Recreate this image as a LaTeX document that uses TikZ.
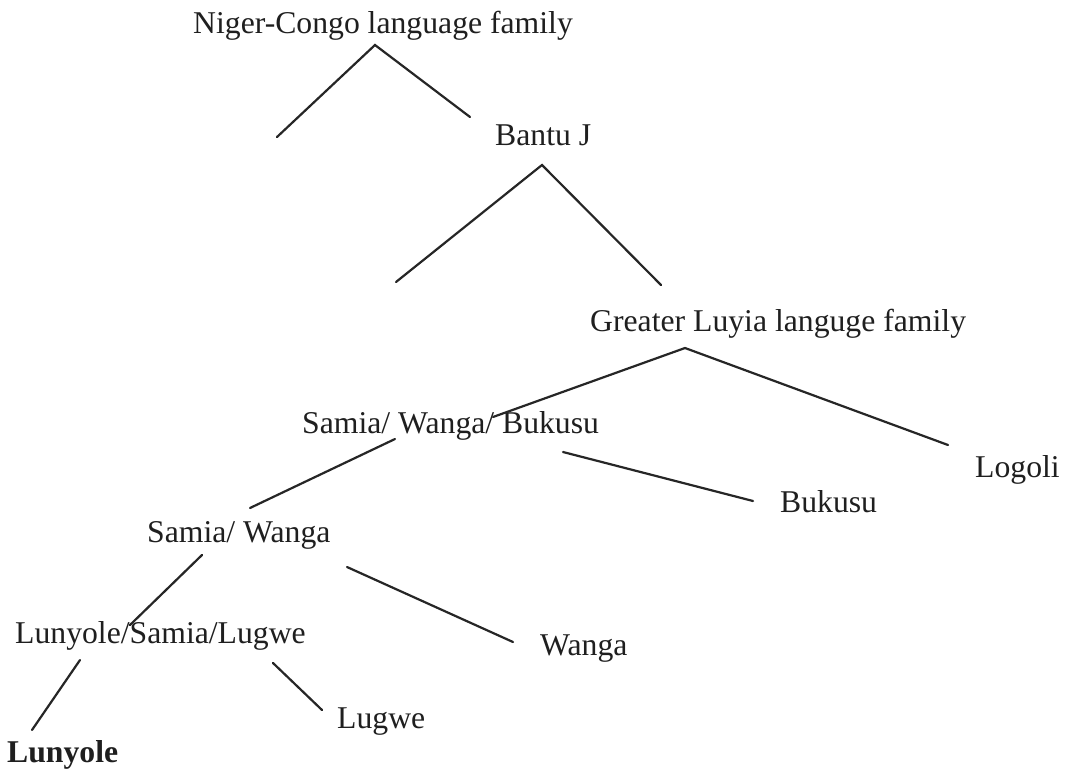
\documentclass[tikz,border=0pt]{standalone}
\usepackage{fontspec}
\setmainfont{Liberation Serif}
\begin{document}
\begin{tikzpicture}[x=1pt,y=-1pt,
  lbl/.style={inner sep=0pt,anchor=base west,font=\fontsize{31.7}{38}\selectfont,text=black!88},
  edge/.style={line width=2.2pt,black!85,line cap=round}]
\useasboundingbox[fill=white] (0,0) rectangle (1067,771);
% labels
\node[lbl] (nc)   at (193,33)  {Niger-Congo language family};
\node[lbl] (bj)   at (495,145) {Bantu J};
\node[lbl] (gl)   at (590,331) {Greater Luyia languge family};
\node[lbl] (swb)  at (302,433) {Samia/ Wanga/ Bukusu};
\node[lbl] (lg)   at (975,477) {Logoli};
\node[lbl] (bk)   at (780,512) {Bukusu};
\node[lbl] (sw)   at (147,542) {Samia/ Wanga};
\node[lbl] (lsl)  at (15,643)  {Lunyole/Samia/Lugwe};
\node[lbl] (wg)   at (540,655) {Wanga};
\node[lbl] (lu)   at (337,728) {Lugwe};
\node[lbl,font=\fontsize{31.7}{38}\selectfont\bfseries] (ln) at (7,762) {Lunyole};
% connector end points
\coordinate (nc-a)  at (375,45);
\coordinate (nc-l)  at (277,137);
\coordinate (bj-t)  at (470,117);
\coordinate (bj-a)  at (542,165);
\coordinate (bj-l)  at (396,282);
\coordinate (gl-t)  at (661,285);
\coordinate (gl-a)  at (685,348);
\coordinate (swb-t) at (493,417);
\coordinate (lg-t)  at (948,445);
\coordinate (swb-r) at (563,452);
\coordinate (bk-t)  at (753,501);
\coordinate (swb-l) at (395,439);
\coordinate (sw-t)  at (250,508);
\coordinate (sw-l)  at (202,555);
\coordinate (lsl-t) at (130,625);
\coordinate (sw-r)  at (347,567);
\coordinate (wg-t)  at (513,642);
\coordinate (lsl-l) at (80,660);
\coordinate (ln-t)  at (32,730);
\coordinate (lsl-r) at (273,663);
\coordinate (lu-t)  at (322,710);
% connectors
\draw[edge] (nc-l) -- (nc-a) -- (bj-t);
\draw[edge] (bj-l) -- (bj-a) -- (gl-t);
\draw[edge] (swb-t) -- (gl-a) -- (lg-t);
\draw[edge] (swb-r) -- (bk-t);
\draw[edge] (swb-l) -- (sw-t);
\draw[edge] (sw-l) -- (lsl-t);
\draw[edge] (sw-r) -- (wg-t);
\draw[edge] (lsl-l) -- (ln-t);
\draw[edge] (lsl-r) -- (lu-t);
\end{tikzpicture}
\end{document}
